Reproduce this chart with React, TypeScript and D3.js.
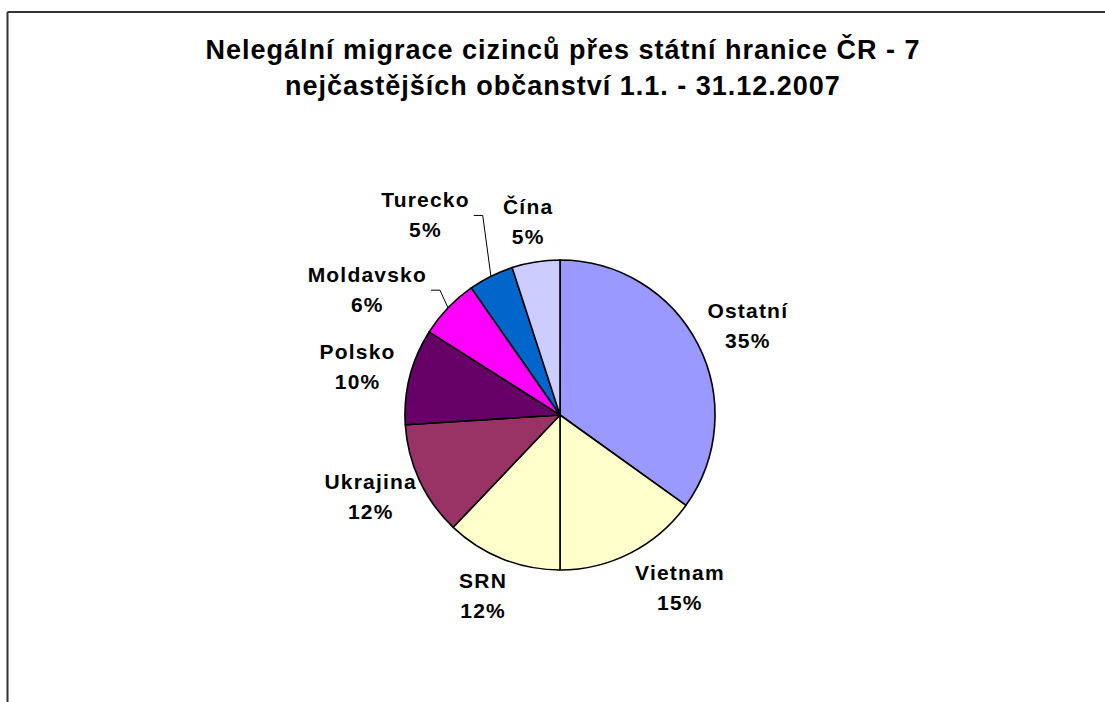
import React, { useEffect, useRef } from 'react';
import * as d3 from 'd3';

const titleLines = [
  'Nelegální migrace cizinců přes státní hranice ČR - 7',
  'nejčastějších občanství 1.1. - 31.12.2007',
];

const categories = ['Ostatní', 'Vietnam', 'SRN', 'Ukrajina', 'Polsko', 'Moldavsko', 'Turecko', 'Čína'];
const shares = [34.9, 15.1, 12.1, 11.9, 10.0, 6.3, 4.7, 5.0];
const colors = ['#9999FF', '#FFFFCC', '#FFFFCC', '#993366', '#660066', '#FF00FF', '#0066CC', '#CCCCFF'];

// labels Excel pushed away from the slice (drawn with leader lines)
const labelNudge: Record<string, [number, number]> = {
  Vietnam: [23, 0],
  Moldavsko: [-42, 10],
  Turecko: [-42, -25],
};
const leaderFor = ['Moldavsko', 'Turecko'];

const W = 1105;
const H = 702;

function draw(node: SVGSVGElement) {
  const svg = d3.select(node);
  svg.selectAll('*').remove();

  // chart frame (only top and left edge are inside the picture)
  svg.append('line').attr('x1', 7.5).attr('y1', 12).attr('x2', W + 5).attr('y2', 12)
    .attr('stroke', '#333').attr('stroke-width', 2);
  svg.append('line').attr('x1', 7.5).attr('y1', 12).attr('x2', 7.5).attr('y2', H + 5)
    .attr('stroke', '#333').attr('stroke-width', 2);

  const title = svg.append('text')
    .attr('text-anchor', 'middle')
    .style('font-family', '"Liberation Sans", Arial, sans-serif')
    .style('font-weight', 'bold')
    .style('font-size', '27px')
    .style('letter-spacing', '1px')
    .attr('fill', '#000');
  titleLines.forEach((t, i) => {
    title.append('tspan').attr('x', 563).attr('y', 59 + i * 36).text(t);
  });

  const cx = 560;
  const cy = 415;
  const r = 155;

  const data = categories.map((c, i) => ({ name: c, value: shares[i], color: colors[i] }));
  const pie = d3.pie<any>().sort(null).value(d => d.value);
  const arcs = pie(data);
  const arc = d3.arc<any>().innerRadius(0).outerRadius(r);

  const g = svg.append('g').attr('transform', `translate(${cx},${cy})`);

  g.selectAll('path.slice')
    .data(arcs)
    .enter().append('path')
    .attr('class', 'slice')
    .attr('d', arc)
    .attr('fill', d => d.data.color)
    .attr('stroke', '#000')
    .attr('stroke-width', 1.6)
    .attr('stroke-linejoin', 'round');

  const rx = 210;
  const ry = 195;

  arcs.forEach(d => {
    const a = (d.startAngle + d.endAngle) / 2;
    const nudge = labelNudge[d.data.name] || [0, 0];
    const lx = Math.sin(a) * rx + nudge[0];
    const ly = -Math.cos(a) * ry + nudge[1];

    const label = g.append('text')
      .attr('text-anchor', 'middle')
      .style('font-family', '"Liberation Sans", Arial, sans-serif')
      .style('font-weight', 'bold')
      .style('font-size', '21px')
      .style('letter-spacing', '1.2px')
      .attr('fill', '#000');
    label.append('tspan').attr('x', lx + 1).attr('y', ly - 8).text(d.data.name);
    label.append('tspan').attr('x', lx + 1).attr('y', ly + 22).text(`${Math.round(d.data.value)}%`);

    if (leaderFor.includes(d.data.name)) {
      const box = (label.node() as SVGTextElement).getBBox();
      const x0 = box.x + box.width + 4;
      const y0 = ly;
      const px = Math.sin(a) * r;
      const py = -Math.cos(a) * r;
      g.append('polyline')
        .attr('points', `${x0},${y0} ${x0 + 9},${y0} ${px},${py}`)
        .attr('fill', 'none')
        .attr('stroke', '#000')
        .attr('stroke-width', 1);
    }
  });
}

export default function App() {
  const ref = useRef<SVGSVGElement>(null);

  useEffect(() => {
    if (ref.current) draw(ref.current);
  }, []);

  return (
    <div style={{ position: 'absolute', left: 0, top: 0 }}>
      <svg ref={ref} width={W} height={H} style={{ display: 'block', background: '#fff' }} />
    </div>
  );
}
